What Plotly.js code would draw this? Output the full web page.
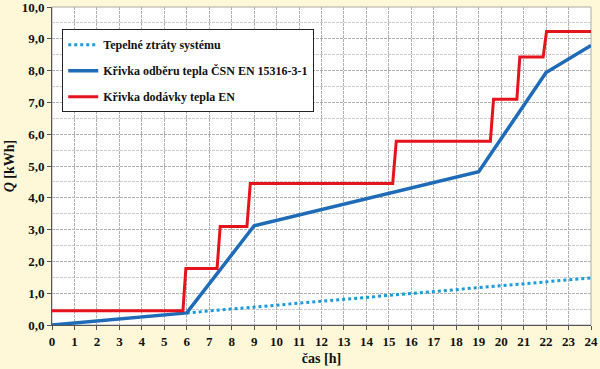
<!DOCTYPE html>
<html><head><meta charset="utf-8">
<script src="https://cdn.plot.ly/plotly-3.0.1.min.js"></script>
<style>body{margin:0;background:#FFF8D8}#c{width:600px;height:369px}</style>
</head><body><div id="c"></div>
<script>
// Tepelné ztráty systému
const lossX = [6, 24];
const lossY = [0.38, 1.48];
// Křivka odběru tepla ČSN EN 15316-3-1
const drawX = [0, 6, 9, 19, 22, 24];
const drawY = [0, 0.38, 3.12, 4.82, 7.94, 8.79];
// Křivka dodávky tepla EN
const supX = [0, 5.83, 5.96, 7.35, 7.49, 8.68, 8.83, 15.17, 15.33, 19.52, 19.66, 20.7, 20.83, 21.87, 22.02, 24];
const supY = [0.45, 0.45, 1.78, 1.78, 3.1, 3.1, 4.45, 4.45, 5.78, 5.78, 7.1, 7.1, 8.43, 8.43, 9.23, 9.23];
const names = ['Tepelné ztráty systému', 'Křivka odběru tepla ČSN EN 15316-3-1', 'Křivka dodávky tepla EN'];
const xTicks = [0,1,2,3,4,5,6,7,8,9,10,11,12,13,14,15,16,17,18,19,20,21,22,23,24];

const fam = 'Liberation Serif';
const font = {family: fam, size: 12, color: '#111'};
const traces = [
  {x: lossX, y: lossY, name: names[0], mode: 'lines', legendgroup: 'a',
   line: {color: '#1B9BDB', width: 3, dash: 'dot'}},
  {x: drawX, y: drawY, name: names[1], mode: 'lines', legendgroup: 'b',
   line: {color: '#1E6BB8', width: 3.5}},
  {x: supX, y: supY, name: names[2], mode: 'lines', legendgroup: 'c',
   line: {color: '#E5131B', width: 3}}
];
const layout = {
  width: 600, height: 369,
  paper_bgcolor: '#FFF8D8', plot_bgcolor: '#FFFFFF',
  margin: {l: 52, r: 9, t: 7, b: 44},
  separators: ', ',
  font: font,
  showlegend: true,
  legend: {x: 0.019, y: 0.93, xanchor: 'left', yanchor: 'top',
    bgcolor: '#FFFFFF', bordercolor: '#222', borderwidth: 1,
    font: {family: fam, size: 12, color: '#111', weight: 'bold'},
    tracegroupgap: 7, traceorder: 'grouped'},
  xaxis: {range: [0, 24], tickvals: xTicks, ticktext: xTicks.map(String),
    showline: true, linecolor: '#555', linewidth: 1, mirror: false,
    ticks: 'outside', ticklen: 4, tickcolor: '#555',
    showgrid: true, gridcolor: '#b0b0b0', griddash: '3px,1px', gridwidth: 1,
    zeroline: false, ticklabeloverflow: 'allow',
    tickfont: {family: fam, size: 13, color: '#111', weight: 'bold'},
    title: {text: 'čas [h]', standoff: 5, font: {family: fam, size: 14, color: '#111', weight: 'bold'}}},
  yaxis: {range: [0, 10], dtick: 1, tickformat: '.1f',
    showline: true, linecolor: '#555', linewidth: 1,
    ticks: 'outside', ticklen: 4, tickcolor: '#555',
    showgrid: true, gridcolor: '#b0b0b0', griddash: '3px,1px', gridwidth: 1,
    minor: {dtick: 0.5, showgrid: true, gridcolor: '#cacaca', griddash: '3px,1px', ticks: ''},
    zeroline: false, ticklabeloverflow: 'allow',
    tickfont: {family: fam, size: 13, color: '#111', weight: 'bold'},
    title: {text: '<i>Q</i> [kWh]', standoff: 3, font: {family: fam, size: 14, color: '#111', weight: 'bold'}}},
  shapes: [{type: 'rect', xref: 'paper', yref: 'paper', x0: 0, x1: 1, y0: 0, y1: 1,
    line: {color: '#aaa', width: 1}, layer: 'below'}]
};
Plotly.newPlot('c', traces, layout, {displayModeBar: false, staticPlot: true});
</script></body></html>
